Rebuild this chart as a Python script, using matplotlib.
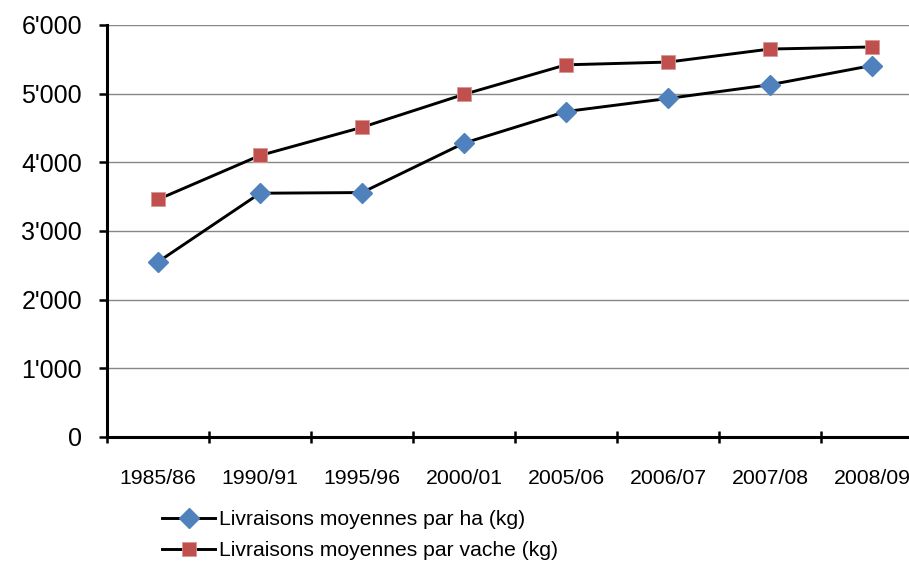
import matplotlib
matplotlib.use("Agg")
import matplotlib.pyplot as plt
from matplotlib.ticker import FixedLocator, FuncFormatter
import numpy as np

categories = ["1985/86", "1990/91", "1995/96", "2000/01", "2005/06", "2006/07", "2007/08", "2008/09"]
par_ha = [2550, 3550, 3560, 4280, 4740, 4930, 5130, 5410]
par_vache = [3460, 4100, 4510, 4990, 5420, 5460, 5650, 5680]
label_ha = "Livraisons moyennes par ha (kg)"
label_vache = "Livraisons moyennes par vache (kg)"

plt.rcParams['font.family'] = ['Liberation Sans', 'DejaVu Sans']

W, H = 909, 562
fig = plt.figure(figsize=(W/100, H/100), dpi=100)
left, right, top, bottom = 107, 923, 25, 437
ax = fig.add_axes([left/W, 1 - bottom/H, (right-left)/W, (bottom-top)/H])

x = np.arange(len(categories))
l1, = ax.plot(x, par_ha, color='black', lw=2.1, marker='D', markersize=10.5,
              markerfacecolor='#4F81BD', markeredgecolor='#4F81BD', zorder=3)
l2, = ax.plot(x, par_vache, color='black', lw=2.1, marker='s', markersize=10.5,
              markerfacecolor='#C0504D', markeredgecolor='#D99795', markeredgewidth=0.6, zorder=3)

ax.set_xlim(-0.5, len(categories) - 0.5)
ax.set_ylim(0, 6000)
ax.yaxis.set_major_locator(FixedLocator(np.arange(0, 6001, 1000)))
ax.yaxis.set_major_formatter(FuncFormatter(lambda v, p: "0" if v == 0 else f"{int(v)//1000}'{int(v)%1000:03d}"))
ax.grid(axis='y', color='#878787', lw=1.0)
ax.set_axisbelow(True)

ax.set_xticks(x)
ax.set_xticklabels(categories)
ax.set_xticks(np.arange(-0.5, len(categories) + 0.5, 1), minor=True)
ax.tick_params(axis='x', which='major', length=0, pad=23, labelsize=15.3)
ax.tick_params(axis='x', which='minor', length=9, width=1.8, direction='inout')
ax.tick_params(axis='y', which='major', length=6, width=1.8, direction='out', pad=12, labelsize=18)

for s in ['top', 'right']:
    ax.spines[s].set_visible(False)
for s in ['left', 'bottom']:
    ax.spines[s].set_linewidth(2.2)
ax.spines['bottom'].set_zorder(4)

leg = fig.legend([l1, l2], [label_ha, label_vache], loc='upper left',
                 bbox_to_anchor=(154/W, 1 - 502/H), frameon=False, fontsize=15.2,
                 handlelength=2.5, handletextpad=0.2, labelspacing=0.55, borderaxespad=0)

fig.savefig("out.png", dpi=100)
